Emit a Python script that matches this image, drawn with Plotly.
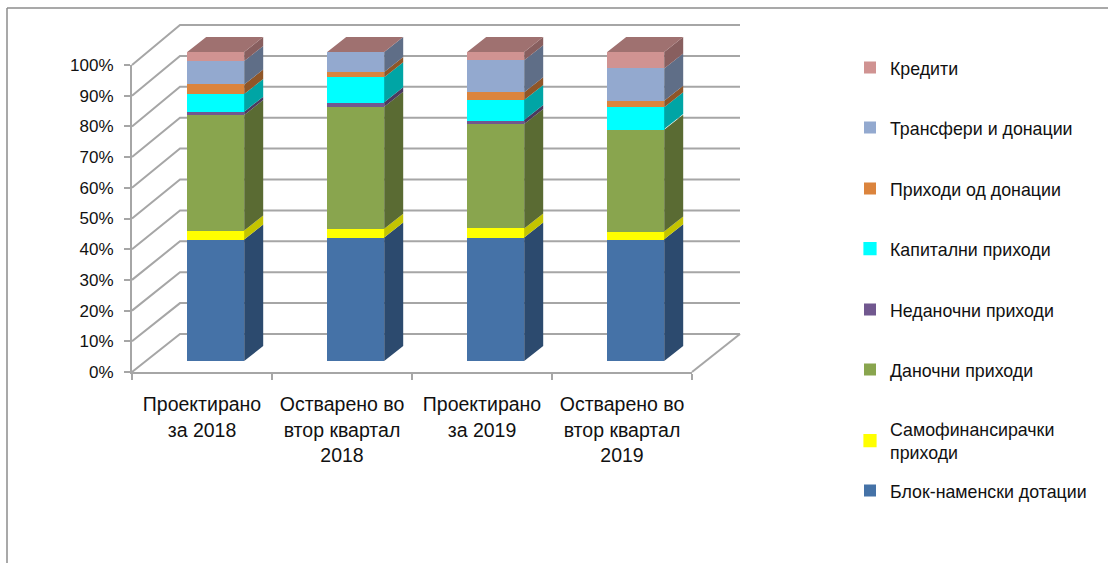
import plotly.graph_objects as go

# ---- data (percent of total) ----
categories = ["Проектирано<br>за 2018", "Остварено во<br>втор квартал<br>2018",
              "Проектирано<br>за 2019", "Остварено во<br>втор квартал<br>2019"]
y_ticks = [0, 10, 20, 30, 40, 50, 60, 70, 80, 90, 100]
y_labels = ["0%", "10%", "20%", "30%", "40%", "50%", "60%", "70%", "80%", "90%", "100%"]

blok = [39.3, 40.0, 40.0, 39.4]
samofin = [2.9, 2.8, 2.9, 2.5]
danocni = [37.4, 39.5, 33.8, 32.9]
nedanocni = [1.1, 1.4, 1.3, 0.3]
kapitalni = [5.7, 8.1, 6.5, 7.0]
donacii = [3.1, 1.7, 2.5, 2.1]
transferi = [7.6, 6.5, 10.3, 10.5]
krediti = [2.9, 0.0, 2.7, 5.3]

series_names = ["Блок-наменски дотации", "Самофинансирачки<br>приходи", "Даночни приходи",
                "Неданочни приходи", "Капитални приходи", "Приходи од донации",
                "Трансфери и донации", "Кредити"]
series_values = [blok, samofin, danocni, nedanocni, kapitalni, donacii, transferi, krediti]

# ---- styles ----
front_colors = ["#4572A7", "#FFFF00", "#89A54E", "#71588F", "#00FFFF", "#DB843D", "#93A9CF", "#D09392"]
side_colors = ["#2C4A6E", "#C4C400", "#5A6B33", "#4A3A5E", "#00A5A5", "#8F5628", "#5F6E87", "#885F5F"]
top_color = "#9F7170"
grid_color = "#A6A6A6"
text_color = "#111111"
font_family = "Liberation Sans"

W, H = 1108, 563
# pixel layout of the oblique box
px_left, px_right = 132, 692
px_floor, px_top = 372, 65
wall_dx, wall_dy = 48, 38
wall_span = 309
bar_shift_x, bar_floor, bar_top = 13.7, 361, 52
bar_width_px, bar_dx, bar_dy = 57, 19, 15
cat_w = (px_right - px_left) / 4
unit = (px_floor - px_top) / 100
bar_unit = (bar_floor - bar_top) / 100
legend_rows = [491, 441, 370, 310, 249, 189, 128, 68]
legend_text_x = 890
positions = list(range(len(categories)))

fig = go.Figure()

# ---- back wall, side wall and floor (hidden full-page axes in front-plane units) ----
dx_c = wall_dx / cat_w
gx, gy = [], []
for t in y_ticks:
    back = (wall_dy + wall_span * t / 100) / unit
    gx += [-0.5, -0.5 + dx_c, 3.5 + dx_c, None]
    gy += [t, back, back, None]
gx += [3.5, 3.5 + dx_c, None]
gy += [0, wall_dy / unit, None]
fig.add_trace(go.Scatter(x=gx, y=gy, mode="lines", line=dict(color=grid_color, width=2),
                         xaxis="x", yaxis="y", showlegend=False, hoverinfo="skip"))

# ---- visible axes: an empty trace keeps them on the page ----
fig.add_trace(go.Scatter(x=positions, y=[0] * len(positions), mode="none", xaxis="x2", yaxis="y2",
                         showlegend=False, hoverinfo="skip"))

# ---- front faces as real stacked bars; sides and tops from the same values ----
w_bar = bar_width_px / cat_w
ddx = bar_dx / cat_w
ddy = bar_dy / bar_unit
for k, (name, vals) in enumerate(zip(series_names, series_values)):
    halo = name.startswith(("Капитални", "Самофин"))
    fig.add_trace(go.Bar(x=positions, y=vals, width=w_bar, name=name, xaxis="x3", yaxis="y3",
                         marker=dict(color=front_colors[k],
                                     line=dict(color=front_colors[k], width=1.2 if halo else 0)),
                         legend="legend" if k == 0 else f"legend{k + 1}"))
cum = [0.0] * len(categories)
for k, vals in enumerate(series_values):
    sx, sy = [], []
    for i, v in enumerate(vals):
        r = i + w_bar / 2
        sx += [r, r + ddx, r + ddx, r, r, None]
        sy += [cum[i], cum[i] + ddy, cum[i] + v + ddy, cum[i] + v, cum[i], None]
        cum[i] += v
    fig.add_trace(go.Scatter(x=sx, y=sy, mode="lines", fill="toself", fillcolor=side_colors[k],
                             line=dict(width=0, color=side_colors[k]), xaxis="x3", yaxis="y3",
                             showlegend=False, hoverinfo="skip"))
tx, ty = [], []
for i, c in enumerate(cum):
    l, r = i - w_bar / 2, i + w_bar / 2
    tx += [l, r, r + ddx, l + ddx, l, None]
    ty += [c, c, c + ddy, c + ddy, c, None]
fig.add_trace(go.Scatter(x=tx, y=ty, mode="lines", fill="toself", fillcolor=top_color,
                         line=dict(width=0, color=top_color), xaxis="x3", yaxis="y3",
                         showlegend=False, hoverinfo="skip"))


def page_range_x(x0_px):
    return [(0 - x0_px) / cat_w - 0.5, (W - x0_px) / cat_w - 0.5]


def page_range_y(floor_px, per_unit):
    return [(floor_px - H) / per_unit, floor_px / per_unit]


font_y = dict(family=font_family, size=17, color=text_color)
font_x = dict(family=font_family, size=19.5, color=text_color)
font_legend = dict(family=font_family, size=17.8, color=text_color)
hidden = dict(visible=False, domain=[0, 1])
layout = dict(
    width=W, height=H, autosize=False,
    margin=dict(l=0, r=0, t=0, b=0, pad=0, autoexpand=False),
    paper_bgcolor="white", plot_bgcolor="rgba(0,0,0,0)", barmode="stack", font=font_legend,
    hovermode=False,
    xaxis=dict(anchor="y", range=page_range_x(px_left), **hidden),
    yaxis=dict(anchor="x", range=page_range_y(px_floor, unit), **hidden),
    xaxis2=dict(anchor="y2", domain=[px_left / W, px_right / W], range=[-0.5, 3.5], tickmode="array",
                tickvals=positions, ticktext=categories, ticks="", showgrid=False, zeroline=False,
                showline=True, linecolor=grid_color, linewidth=2, tickfont=font_x, tickangle=0,
                ticklabelstandoff=14,
                minor=dict(tickmode="array", tickvals=[-0.5, 0.5, 1.5, 2.5, 3.5], ticks="outside",
                           ticklen=6, tickwidth=1.5, tickcolor=grid_color, showgrid=False)),
    yaxis2=dict(anchor="x2", domain=[(H - px_floor) / H, (H - px_top) / H], range=[0, 100],
                tickmode="array", tickvals=y_ticks, ticktext=y_labels, ticks="outside", ticklen=6,
                tickwidth=1.5, tickcolor=grid_color, showgrid=False, zeroline=False, showline=True,
                linecolor=grid_color, linewidth=2, tickfont=font_y, ticklabelstandoff=7),
    xaxis3=dict(anchor="y3", range=page_range_x(px_left + bar_shift_x), **hidden),
    yaxis3=dict(anchor="x3", range=page_range_y(bar_floor, bar_unit), **hidden),
    shapes=[
        dict(type="line", xref="paper", yref="paper", x0=7 / W, x1=1, y0=1 - 8 / H, y1=1 - 8 / H,
             line=dict(color="#8C8C8C", width=1.5)),
        dict(type="line", xref="paper", yref="paper", x0=7 / W, x1=7 / W, y0=0, y1=1 - 8 / H,
             line=dict(color="#8C8C8C", width=1.5)),
    ],
)
for k, row in enumerate(legend_rows):
    key = "legend" if k == 0 else f"legend{k + 1}"
    layout[key] = dict(x=(legend_text_x - 40) / W, y=1 - row / H, xanchor="left", yanchor="middle",
                       font=font_legend, bgcolor="rgba(0,0,0,0)", borderwidth=0)
fig.update_layout(**layout)
fig.write_html("out.html", config={"displayModeBar": False},
               post_script="document.body.style.margin='0';")
